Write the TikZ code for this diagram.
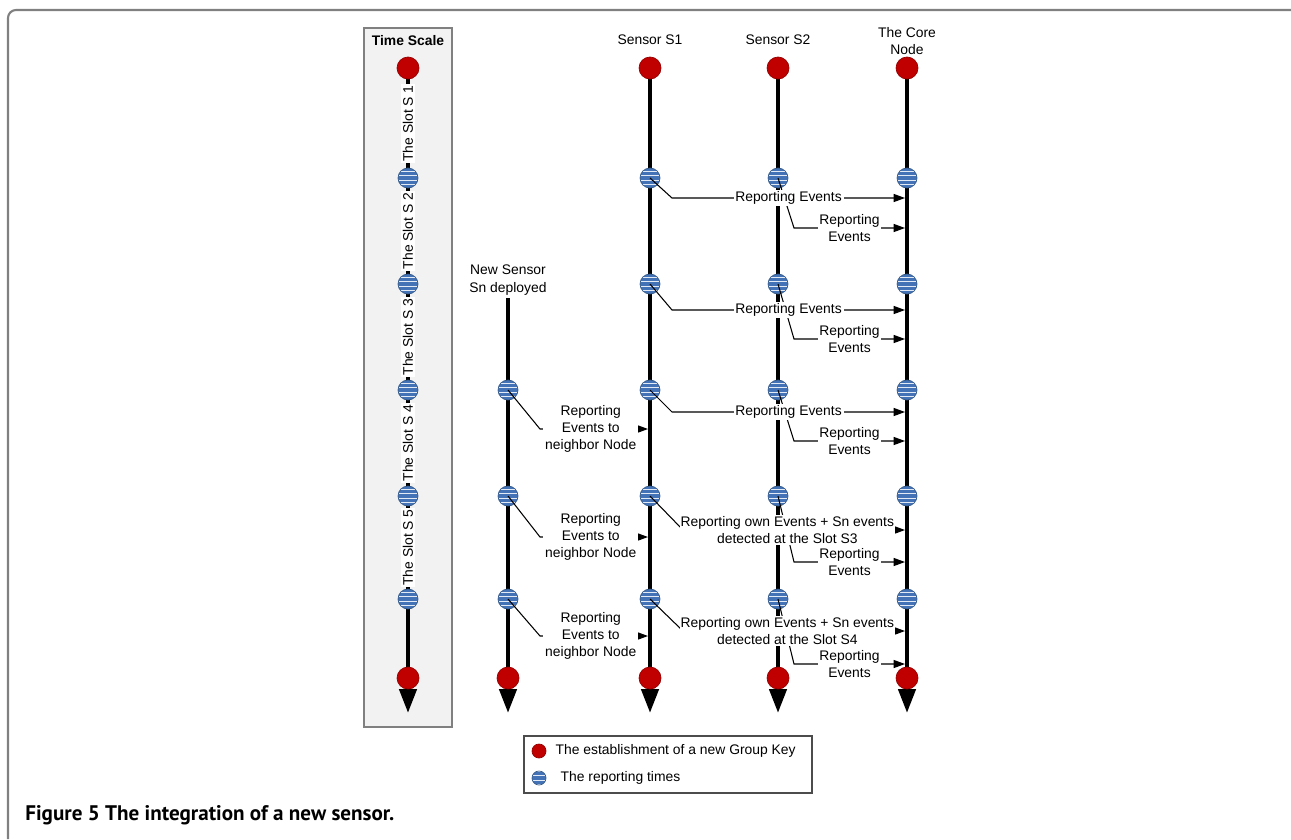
\documentclass[tikz,border=0pt]{standalone}
\usepackage{fontspec}
\setmainfont{Liberation Sans}
\newfontfamily\capfont{PT Sans}
\usepackage{tikz}
\usetikzlibrary{arrows.meta,calc,positioning}

\definecolor{keyred}{RGB}{192,0,0}
\definecolor{keyedge}{RGB}{150,0,0}
\definecolor{rtblue}{RGB}{68,114,182}
\definecolor{rtedge}{RGB}{56,93,138}
\definecolor{rtstripe}{RGB}{226,234,245}
\definecolor{boxgray}{RGB}{242,242,242}
\definecolor{framegray}{RGB}{128,128,128}

\newcommand\pxu{0.02cm}

\tikzset{
  keydot/.style={circle,fill=keyred,draw=keyedge,line width=0.4pt,inner sep=0pt,minimum size=22*\pxu},
  rtdot/.style={circle,fill=rtblue,draw=rtedge,line width=0.4pt,inner sep=0pt,minimum size=20*\pxu,
    path picture={\foreach \k in {-1.5,-0.5,0.5,1.5}
      \fill[rtstripe] ($(path picture bounding box.center)+(-12,\k*4.4-0.65)$) rectangle ++(24,1.3);}},
  vline/.style={line width=0.09cm,-{Triangle[length=0.48cm,width=0.34cm]}},
  rep/.style={line width=0.6pt,-{Triangle[length=6.5pt,width=4.6pt]}},
  lbl/.style={fill=white,align=center,inner sep=1pt},
  slot/.style={fill=white,rotate=90,inner sep=1pt},
  head/.style={align=center,inner sep=0pt},
}

\begin{document}
\begin{tikzpicture}[x=0.02cm,y=-0.02cm,font=\fontsize{7.9}{9.8}\selectfont]
\useasboundingbox (0,0) rectangle (1291,839);
\draw[framegray,line width=1.2pt,rounded corners=0.16cm] (8,839) -- (8,10) -- (1291,10);
\node[draw=framegray,fill=boxgray,line width=0.6pt,minimum width=88*\pxu,minimum height=699*\pxu,inner sep=0pt] (tsbox) at (408,377.5) {};
\node[font=\fontsize{7.9}{9.8}\selectfont\bfseries] (tstitle) at (408,41) {Time Scale};
\node[head] (sahead) at (650,40) {Sensor S1};
\node[head] (sbhead) at (778,40) {Sensor S2};
\node[head] (cohead) at (907,41) {The Core\\Node};
\node[head] (snhead) at (508,280) {New Sensor\\Sn deployed};

% lifelines
\foreach \n/\x/\t in {ts/408/68, sn/508/298, sa/650/68, sb/778/68, co/907/68}
  \draw[vline] (\x,\t) coordinate (\n-top) -- (\x,713) coordinate (\n-end);

% key and reporting times
\foreach \n/\x in {ts/408, sa/650, sb/778, co/907} {
  \node[keydot] (\n-0) at (\x,68) {};
  \foreach \i/\y in {1/178, 2/284, 3/390, 4/496, 5/599}
    \node[rtdot] (\n-\i) at (\x,\y) {};
}
\foreach \i/\y in {3/390, 4/496, 5/599}
  \node[rtdot] (sn-\i) at (508,\y) {};
\foreach \n/\x in {ts/408, sn/508, sa/650, sb/778, co/907}
  \node[keydot] (\n-6) at (\x,678) {};

\foreach \j/\i in {0/1, 1/2, 2/3, 3/4, 4/5}
  \path (ts-\j) -- node[slot] (slot-\i) {The Slot S \i} (ts-\i);

% reporting events
\foreach \i/\a/\b in {1/20/50, 2/26/55, 3/22/51} {
  \draw[rep] (sb-\i.center) -- ++(16,\b) -- node[lbl] (rb-\i) {Reporting\\Events} ($(co-\i.center)+(-2,\b)$);
  \draw[rep] (sa-\i.center) -- ++(22,\a) -- node[lbl] (ra-\i) {Reporting Events} ($(co-\i.center)+(-2,\a)$);
}
\foreach \i/\a/\b/\s in {4/34/66/3, 5/32/65/4} {
  \draw[rep] (sb-\i.center) -- ++(16,\b) -- node[lbl] (rb-\i) {Reporting\\Events} ($(co-\i.center)+(-2,\b)$);
  \draw[rep] (sa-\i.center) -- ++(33,\a) -- node[lbl,pos=0.47,inner sep=0.5pt] (ra-\i) {Reporting own Events + Sn events\\detected at the Slot S\s} ($(co-\i.center)+(-2,\a)$);
}
\foreach \i/\c in {3/39, 4/41, 5/37}
  \draw[rep] (sn-\i.center) -- ++(32,\c) -- node[lbl,pos=0.47] (rn-\i) {Reporting\\Events to\\neighbor Node} ($(sa-\i.center)+(-2,\c)$);

% legend
\node[draw=black!70,line width=0.6pt,minimum width=288*\pxu,minimum height=57*\pxu,inner sep=0pt] (legend) at (668,764.5) {};
\node[keydot,minimum size=14*\pxu] (lgkey) at (539,751) {};
\node[right=0.18cm of lgkey,inner sep=0pt] (lgkeytxt) {The establishment of a new Group Key};
\node[rtdot,minimum size=14*\pxu] (lgrt) at (539,778) {};
\node[right=0.28cm of lgrt,inner sep=0pt] (lgrttxt) {The reporting times};

\node[anchor=west,inner sep=0pt,font=\capfont\fontsize{12}{14}\selectfont\bfseries] (caption) at (25,815) {Figure 5 The integration of a new sensor.};
\end{tikzpicture}
\end{document}
